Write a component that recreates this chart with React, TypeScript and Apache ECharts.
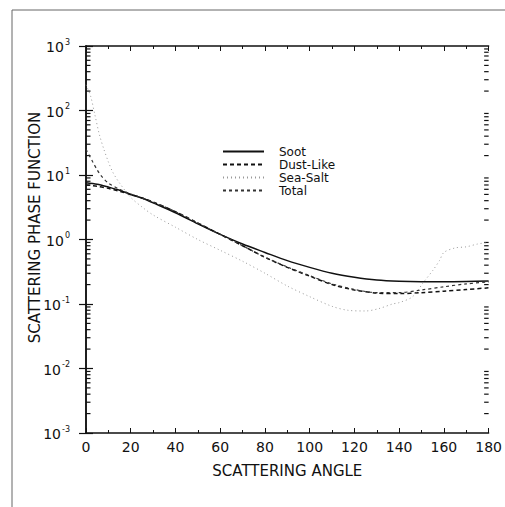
import React, { useEffect, useRef } from "react";
import * as echarts from "echarts";

const sootAngles = [0, 5, 10, 15, 20, 25, 30, 40, 50, 60, 70, 80, 90, 100, 110, 120, 130, 140, 150, 160, 170, 180];
const sootValues = [7.6, 7.2, 6.5, 5.8, 5.0, 4.4, 3.7, 2.6, 1.75, 1.2, 0.85, 0.63, 0.47, 0.37, 0.3, 0.26, 0.235, 0.225, 0.222, 0.222, 0.224, 0.228];

const dustAngles = [0, 5, 10, 15, 20, 25, 30, 40, 50, 60, 70, 80, 90, 100, 110, 120, 130, 140, 150, 160, 170, 180];
const dustValues = [7.0, 6.7, 6.2, 5.6, 5.0, 4.4, 3.8, 2.7, 1.8, 1.2, 0.8, 0.53, 0.37, 0.27, 0.2, 0.165, 0.148, 0.145, 0.15, 0.158, 0.168, 0.178];

const seaAngles = [0, 2, 4, 6, 8, 10, 12, 15, 20, 25, 30, 40, 50, 60, 70, 80, 90, 100, 110, 117, 125, 131, 137, 140, 146, 151, 155, 158, 160, 165, 170, 175, 180];
const seaValues = [250, 170, 85, 42, 25, 16, 11, 7.5, 4.5, 3.2, 2.4, 1.55, 1.0, 0.68, 0.46, 0.3, 0.19, 0.13, 0.092, 0.08, 0.078, 0.085, 0.1, 0.105, 0.13, 0.22, 0.33, 0.47, 0.63, 0.74, 0.77, 0.85, 0.9];

const totalAngles = [0, 3, 5, 7, 10, 15, 20, 30, 40, 50, 60, 70, 80, 90, 100, 110, 120, 130, 140, 150, 160, 170, 180];
const totalValues = [25, 16, 12, 9.5, 7.5, 6.0, 5.1, 3.8, 2.7, 1.8, 1.2, 0.8, 0.53, 0.375, 0.275, 0.205, 0.168, 0.15, 0.15, 0.165, 0.185, 0.205, 0.22];

const xTicks = [0, 20, 40, 60, 80, 100, 120, 140, 160, 180];
const yDecades = [-3, -2, -1, 0, 1, 2, 3];
const minorMultipliers = [2, 3, 4, 5, 6, 7, 8, 9];

const FONT = "DejaVu Sans";
const INK = "#111";

function pairs(xs: number[], ys: number[]) {
  return xs.map((x, i) => [x, ys[i]]);
}

export default function App() {
  const ref = useRef<HTMLDivElement>(null);
  useEffect(() => {
    if (!ref.current) return;
    const chart = echarts.init(ref.current, undefined, { renderer: "svg" });
    const minorVals: number[][] = [];
    yDecades.slice(0, -1).forEach((n) => {
      minorMultipliers.forEach((m) => minorVals.push([90, m * Math.pow(10, n)]));
    });
    const lineCommon = { type: "line", symbol: "none", smooth: 0.3, xAxisIndex: 0, yAxisIndex: 0 };
    chart.setOption({
      animation: false,
      backgroundColor: "#fff",
      graphic: [
        { type: "line", shape: { x1: 12, y1: 10, x2: 505, y2: 10 }, style: { stroke: "#666", lineWidth: 1 } },
        { type: "line", shape: { x1: 12, y1: 10, x2: 12, y2: 507 }, style: { stroke: "#666", lineWidth: 1 } },
      ],
      grid: { left: 86, right: 12, top: 46, bottom: 74 },
      legend: {
        orient: "vertical",
        left: 222,
        top: 145,
        padding: 0,
        itemWidth: 41,
        itemHeight: 10,
        itemGap: 0,
        itemStyle: { opacity: 0 },
        textStyle: { fontFamily: FONT, fontSize: 12, lineHeight: 13, color: INK, padding: [0, 0, 0, 10] },
        data: ["Soot", "Dust-Like", "Sea-Salt", "Total"],
      },
      xAxis: [
        {
          type: "value",
          min: 0,
          max: 180,
          interval: 20,
          name: "SCATTERING ANGLE",
          nameLocation: "middle",
          nameGap: 30,
          nameTextStyle: { fontFamily: FONT, fontSize: 15, color: INK },
          axisLine: { lineStyle: { color: INK, width: 1.5 } },
          axisTick: { inside: true, length: 5, lineStyle: { color: INK } },
          minorTick: { show: true, splitNumber: 2, length: 3, lineStyle: { color: INK } },
          axisLabel: {
            fontFamily: FONT,
            fontSize: 14,
            color: INK,
            margin: 7,
            formatter: (v: number) => (xTicks.includes(v) ? String(v) : ""),
          },
          splitLine: { show: false },
        },
        {
          type: "value",
          position: "top",
          min: 0,
          max: 180,
          interval: 20,
          axisLine: { lineStyle: { color: INK, width: 1.5 } },
          axisTick: { inside: true, length: 5, lineStyle: { color: INK } },
          minorTick: { show: true, splitNumber: 2, length: 3, lineStyle: { color: INK } },
          axisLabel: { show: false },
          splitLine: { show: false },
        },
      ],
      yAxis: [
        {
          type: "log",
          logBase: 10,
          min: 0.001,
          max: 1000,
          name: "SCATTERING PHASE FUNCTION",
          nameLocation: "middle",
          nameGap: 44,
          nameMoveOverlap: false,
          nameTextStyle: { fontFamily: FONT, fontSize: 15, color: INK, padding: [0, 0, 0, 24] },
          axisLine: { lineStyle: { color: INK, width: 1.5 } },
          axisTick: { inside: true, length: 7, lineStyle: { color: INK, width: 1.2 } },
          axisLabel: {
            fontFamily: FONT,
            color: INK,
            margin: 16,
            formatter: (v: number) => `{b|10}{s|${Math.round(Math.log10(v))}}`,
            rich: {
              b: { fontFamily: FONT, fontSize: 14, color: INK, verticalAlign: "bottom" },
              s: { fontFamily: FONT, fontSize: 8, color: INK, verticalAlign: "bottom", padding: [0, 0, 8, 1] },
            },
          },
          splitLine: { show: false },
        },
        {
          type: "log",
          logBase: 10,
          min: 0.001,
          max: 1000,
          position: "right",
          axisLine: { lineStyle: { color: INK, width: 1.5 } },
          axisTick: { inside: true, length: 7, lineStyle: { color: INK, width: 1.2 } },
          axisLabel: { show: false },
          splitLine: { show: false },
        },
      ],
      series: [
        {
          ...lineCommon,
          name: "Soot",
          data: pairs(sootAngles, sootValues),
          lineStyle: { color: INK, width: 1.5, type: "solid" },
          itemStyle: { color: INK },
        },
        {
          ...lineCommon,
          name: "Dust-Like",
          data: pairs(dustAngles, dustValues),
          lineStyle: { color: INK, width: 1.5, type: [4, 3] },
          itemStyle: { color: INK },
        },
        {
          ...lineCommon,
          name: "Sea-Salt",
          data: pairs(seaAngles, seaValues),
          lineStyle: { color: "#999", width: 1, type: [1, 3] },
          itemStyle: { color: "#999" },
        },
        {
          ...lineCommon,
          name: "Total",
          data: pairs(totalAngles, totalValues),
          lineStyle: { color: "#333", width: 1.2, type: [3, 3] },
          itemStyle: { color: "#333" },
        },
        {
          type: "custom",
          name: "minorTicks",
          silent: true,
          clip: false,
          data: minorVals,
          encode: { x: 0, y: 1 },
          renderItem: (params: any, api: any) => {
            const v = api.value(1);
            const p = api.coord([0, v]);
            const cs = params.coordSys;
            return {
              type: "group",
              children: [
                { type: "line", shape: { x1: cs.x, y1: p[1], x2: cs.x + 4.5, y2: p[1] }, style: { stroke: INK, lineWidth: 1.2 } },
                { type: "line", shape: { x1: cs.x + cs.width, y1: p[1], x2: cs.x + cs.width - 4.5, y2: p[1] }, style: { stroke: INK, lineWidth: 1.2 } },
              ],
            };
          },
        },
      ],
    });
    return () => chart.dispose();
  }, []);
  return <div ref={ref} style={{ width: 505, height: 507, position: "absolute", left: 0, top: 0 }} />;
}
